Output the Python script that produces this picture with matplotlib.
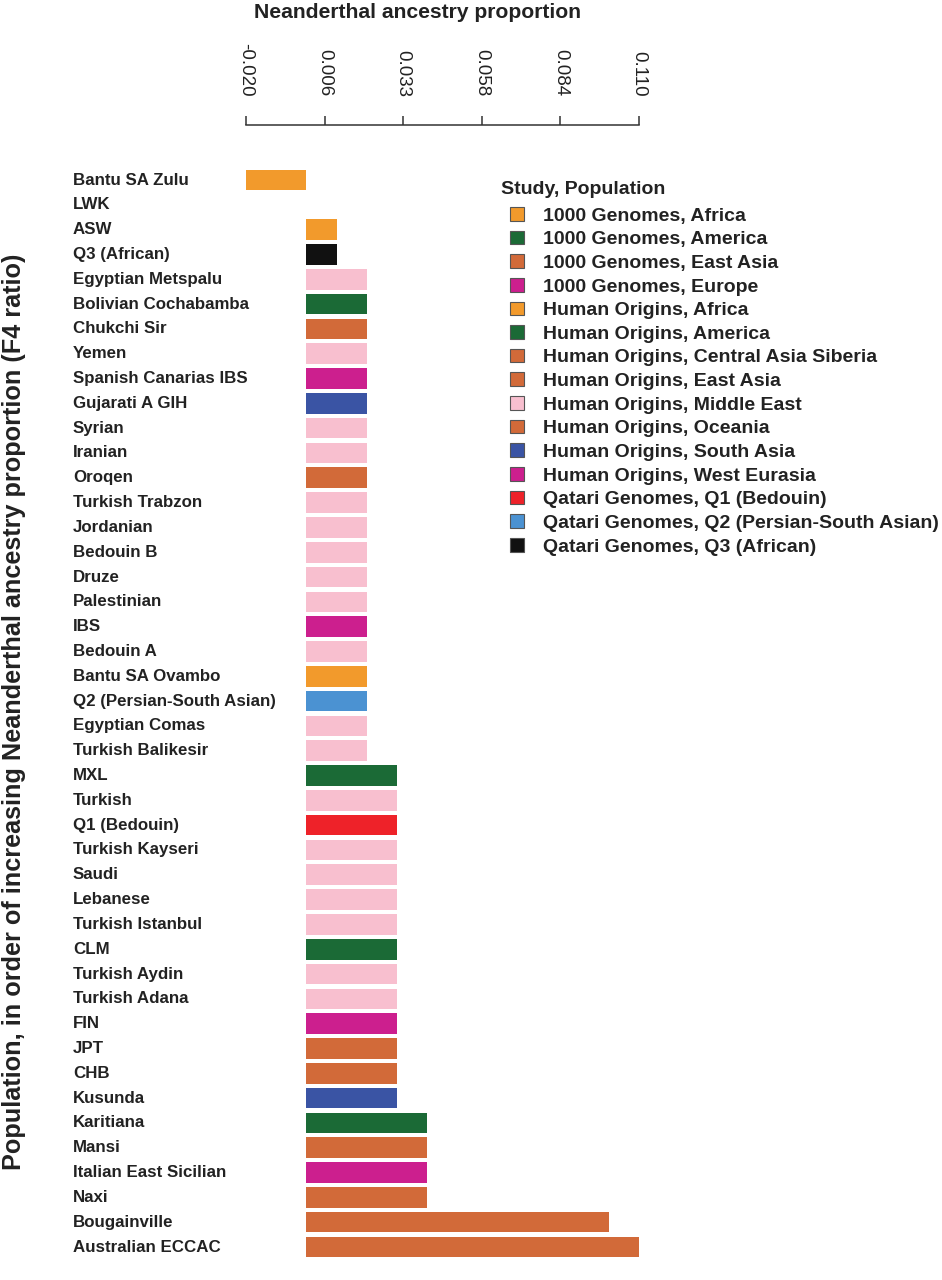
import matplotlib
matplotlib.use("Agg")
import matplotlib.pyplot as plt
import matplotlib.transforms as mtransforms
from matplotlib.patches import Patch
import numpy as np

plt.rcParams['font.family'] = ['Liberation Sans', 'DejaVu Sans']

populations = [
    "Bantu SA Zulu", "LWK", "ASW", "Q3 (African)", "Egyptian Metspalu",
    "Bolivian Cochabamba", "Chukchi Sir", "Yemen", "Spanish Canarias IBS",
    "Gujarati A GIH", "Syrian", "Iranian", "Oroqen", "Turkish Trabzon",
    "Jordanian", "Bedouin B", "Druze", "Palestinian", "IBS", "Bedouin A",
    "Bantu SA Ovambo", "Q2 (Persian-South Asian)", "Egyptian Comas",
    "Turkish Balikesir", "MXL", "Turkish", "Q1 (Bedouin)", "Turkish Kayseri",
    "Saudi", "Lebanese", "Turkish Istanbul", "CLM", "Turkish Aydin",
    "Turkish Adana", "FIN", "JPT", "CHB", "Kusunda", "Karitiana", "Mansi",
    "Italian East Sicilian", "Naxi", "Bougainville", "Australian ECCAC",
]

values = [
    -0.020, 0.000, 0.010, 0.010, 0.020,
    0.020, 0.020, 0.020, 0.020,
    0.020, 0.020, 0.020, 0.020, 0.020,
    0.020, 0.020, 0.020, 0.020, 0.020, 0.020,
    0.020, 0.020, 0.020,
    0.020, 0.030, 0.030, 0.030, 0.030,
    0.030, 0.030, 0.030, 0.030, 0.030,
    0.030, 0.030, 0.030, 0.030, 0.030, 0.040, 0.040,
    0.040, 0.040, 0.100, 0.110,
]

groups = [
    "Human Origins, Africa", "1000 Genomes, Africa", "1000 Genomes, Africa",
    "Qatari Genomes, Q3 (African)", "Human Origins, Middle East",
    "Human Origins, America", "Human Origins, Central Asia Siberia",
    "Human Origins, Middle East", "Human Origins, West Eurasia",
    "Human Origins, South Asia", "Human Origins, Middle East",
    "Human Origins, Middle East", "Human Origins, East Asia",
    "Human Origins, Middle East", "Human Origins, Middle East",
    "Human Origins, Middle East", "Human Origins, Middle East",
    "Human Origins, Middle East", "1000 Genomes, Europe",
    "Human Origins, Middle East", "Human Origins, Africa",
    "Qatari Genomes, Q2 (Persian-South Asian)", "Human Origins, Middle East",
    "Human Origins, Middle East", "1000 Genomes, America",
    "Human Origins, Middle East", "Qatari Genomes, Q1 (Bedouin)",
    "Human Origins, Middle East", "Human Origins, Middle East",
    "Human Origins, Middle East", "Human Origins, Middle East",
    "1000 Genomes, America", "Human Origins, Middle East",
    "Human Origins, Middle East", "1000 Genomes, Europe",
    "1000 Genomes, East Asia", "1000 Genomes, East Asia",
    "Human Origins, South Asia", "Human Origins, America",
    "Human Origins, Central Asia Siberia", "Human Origins, West Eurasia",
    "Human Origins, East Asia", "Human Origins, Oceania",
    "Human Origins, Oceania",
]

legend_labels = [
    "1000 Genomes, Africa", "1000 Genomes, America", "1000 Genomes, East Asia",
    "1000 Genomes, Europe", "Human Origins, Africa", "Human Origins, America",
    "Human Origins, Central Asia Siberia", "Human Origins, East Asia",
    "Human Origins, Middle East", "Human Origins, Oceania",
    "Human Origins, South Asia", "Human Origins, West Eurasia",
    "Qatari Genomes, Q1 (Bedouin)", "Qatari Genomes, Q2 (Persian-South Asian)",
    "Qatari Genomes, Q3 (African)",
]
legend_colors = [
    "#F29A2C", "#1B6A36", "#D26A39", "#CC1F8E", "#F29A2C", "#1B6A36",
    "#D26A39", "#D26A39", "#F8BFCF", "#D26A39", "#3A54A4", "#CC1F8E",
    "#EE2229", "#4B92D2", "#111111",
]

tick_values = [-0.020, 0.006, 0.033, 0.058, 0.084, 0.110]
tick_labels = ["-0.020", "0.006", "0.033", "0.058", "0.084", "0.110"]

W, H = 942, 1280
fig = plt.figure(figsize=(W / 100, H / 100), dpi=100)

ax_left, ax_right = 246, 639
ax_top, ax_bottom = 125, 1262
ax = fig.add_axes([ax_left / W, 1 - ax_bottom / H, (ax_right - ax_left) / W, (ax_bottom - ax_top) / H])

color_map = dict(zip(legend_labels, legend_colors))
ypos = np.arange(len(populations))
ax.barh(ypos, values, height=0.83, color=[color_map[g] for g in groups], linewidth=0)

pitch = (1247 - 180) / (len(populations) - 1)
ax.set_ylim(len(populations) - 1 + (ax_bottom - 1247) / pitch, -(180 - ax_top) / pitch)
ax.set_xlim(-0.020, 0.110)

for s in ["left", "right", "bottom"]:
    ax.spines[s].set_visible(False)
ax.spines["top"].set_color("#333333")
ax.spines["top"].set_linewidth(1.1)
ax.xaxis.tick_top()
tick_pos = np.linspace(-0.020, 0.110, len(tick_values))
ax.set_xticks(tick_pos)
ax.set_xticklabels(tick_labels, rotation=-90, fontsize=13.5, color="#222222")
ax.tick_params(axis="x", direction="out", length=6.5, width=1.1, color="#333333", pad=14)
ax.set_yticks([])

trans = mtransforms.blended_transform_factory(fig.transFigure, ax.transData)
for i, name in enumerate(populations):
    ax.text(73 / W, i, name, transform=trans, ha="left", va="center",
            fontsize=12.2, fontweight="bold", color="#222222")

fig.text(418 / W, 1 - 12 / H, "Neanderthal ancestry proportion", ha="center", va="center",
         fontsize=15.2, fontweight="bold", color="#222222")
fig.text(14 / W, 1 - 712 / H,
         "Population, in order of increasing Neanderthal ancestry proportion (F4 ratio)",
         rotation=90, ha="center", va="center", fontsize=18.2, fontweight="bold", color="#222222")

fig.text(501 / W, 1 - 189 / H, "Study, Population", ha="left", va="center",
         fontsize=14, fontweight="bold", color="#222222")
handles = [Patch(facecolor=c, edgecolor="#555555", linewidth=0.8) for c in legend_colors]
leg = ax.legend(handles, legend_labels, loc="upper left",
                bbox_to_anchor=(510 / W, 1 - 207 / H), bbox_transform=fig.transFigure,
                frameon=False, borderpad=0, borderaxespad=0, handlelength=0.7,
                handleheight=0.7, handletextpad=1.0, labelspacing=0.31,
                prop={"size": 14, "weight": "bold"})
for t in leg.get_texts():
    t.set_color("#222222")

fig.savefig("out.png", dpi=100)
